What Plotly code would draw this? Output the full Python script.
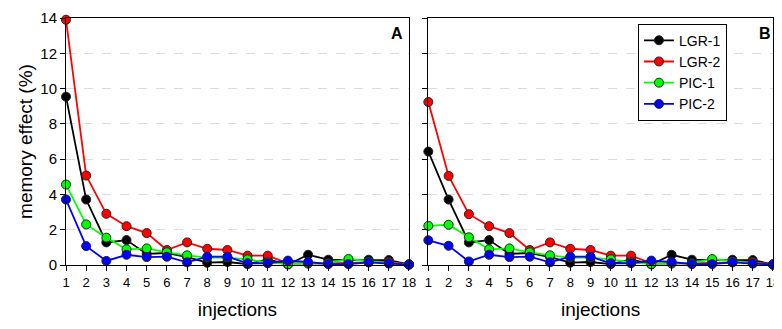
import plotly.graph_objects as go

injections = list(range(1, 19))

# Panel A
lgr1_a = [9.54, 3.71, 1.28, 1.41, 0.63, 0.68, 0.45, 0.13, 0.17, 0.05, 0.32, 0.03, 0.58, 0.30, 0.28, 0.30, 0.28, 0.03]
lgr2_a = [13.9, 5.07, 2.9, 2.2, 1.81, 0.85, 1.28, 0.92, 0.85, 0.53, 0.53, 0.10, 0.08, 0.08, 0.12, 0.15, 0.18, 0.03]
pic1_a = [4.56, 2.3, 1.55, 0.89, 0.94, 0.72, 0.55, 0.42, 0.42, 0.32, 0.15, 0.05, 0.10, 0.10, 0.34, 0.20, 0.10, 0.03]
pic2_a = [3.71, 1.07, 0.23, 0.58, 0.45, 0.47, 0.15, 0.47, 0.47, 0.10, 0.10, 0.25, 0.17, 0.05, 0.05, 0.15, 0.08, 0.03]

# Panel B
lgr1_b = [6.43, 3.71, 1.28, 1.41, 0.63, 0.68, 0.45, 0.13, 0.17, 0.05, 0.32, 0.03, 0.58, 0.30, 0.28, 0.30, 0.28, 0.03]
lgr2_b = [9.24, 5.05, 2.88, 2.2, 1.81, 0.85, 1.28, 0.92, 0.85, 0.53, 0.53, 0.10, 0.08, 0.08, 0.12, 0.15, 0.18, 0.03]
pic1_b = [2.22, 2.28, 1.57, 0.89, 0.94, 0.72, 0.55, 0.42, 0.42, 0.32, 0.15, 0.05, 0.10, 0.10, 0.34, 0.20, 0.10, 0.03]
pic2_b = [1.40, 1.09, 0.20, 0.58, 0.45, 0.47, 0.15, 0.47, 0.47, 0.10, 0.10, 0.25, 0.17, 0.05, 0.05, 0.15, 0.08, 0.03]

series_names = ["LGR-1", "LGR-2", "PIC-1", "PIC-2"]
colors = ["#000000", "#ff0000", "#00ff00", "#0000ff"]

fig = go.Figure()

panels = [("x", "y", [lgr1_a, lgr2_a, pic1_a, pic2_a], True),
          ("x2", "y2", [lgr1_b, lgr2_b, pic1_b, pic2_b], False)]

for xa, ya, data, show in panels:
    for name, col, vals in zip(series_names, colors, data):
        fig.add_trace(go.Scatter(
            x=injections, y=vals, name=name, xaxis=xa, yaxis=ya,
            mode="lines+markers", showlegend=show, cliponaxis=False,
            line=dict(color=col, width=1.8),
            marker=dict(color=col, size=9, line=dict(color="#222222", width=1)),
        ))

font_family = "Liberation Sans, Arial, sans-serif"

common_x = dict(range=[1, 18], tickvals=injections, ticks="outside", ticklen=5,
                tickcolor="#000", showline=True, linecolor="#000", linewidth=1,
                mirror=True, showgrid=False, zeroline=False, automargin=False,
                tickfont=dict(size=13, color="#000"),
                title=dict(text="injections", font=dict(size=19, color="#000"), standoff=14))
common_y = dict(range=[0, 14], tickvals=[0, 2, 4, 6, 8, 10, 12, 14], ticks="outside",
                ticklen=5, tickcolor="#000", showline=True, linecolor="#000",
                linewidth=1, mirror=True, showgrid=True, gridcolor="#dcdcdc",
                griddash="dash", gridwidth=1, zeroline=False, automargin=False,
                tickfont=dict(size=15, color="#000"))

fig.update_layout(
    width=782, height=329,
    margin=dict(l=58, r=17, t=9.5, b=72),
    paper_bgcolor="white", plot_bgcolor="white",
    font=dict(family=font_family, color="#000"),
    xaxis=dict(domain=[0, 0.4851], anchor="y", **common_x),
    yaxis=dict(domain=[0, 1], anchor="x",
               title=dict(text="memory effect (%)", font=dict(size=19, color="#000"), standoff=2),
               **common_y),
    xaxis2=dict(domain=[0.5125, 1], anchor="y2", **common_x),
    yaxis2=dict(domain=[0, 1], anchor="x2", showticklabels=False, **common_y),
    legend=dict(x=0.809, y=0.977, xanchor="left", yanchor="top",
                bordercolor="#000", borderwidth=1, bgcolor="white",
                font=dict(size=14, color="#000"), itemwidth=30,
                tracegroupgap=0),
    annotations=[
        dict(text="<b>A</b>", x=0.468, y=0.937, xref="paper", yref="paper",
             xanchor="center", yanchor="middle",
             showarrow=False, font=dict(size=16, color="#000")),
        dict(text="<b>B</b>", x=0.9887, y=0.937, xref="paper", yref="paper",
             xanchor="center", yanchor="middle",
             showarrow=False, font=dict(size=16, color="#000")),
    ],
)

fig.write_html("out.html")
